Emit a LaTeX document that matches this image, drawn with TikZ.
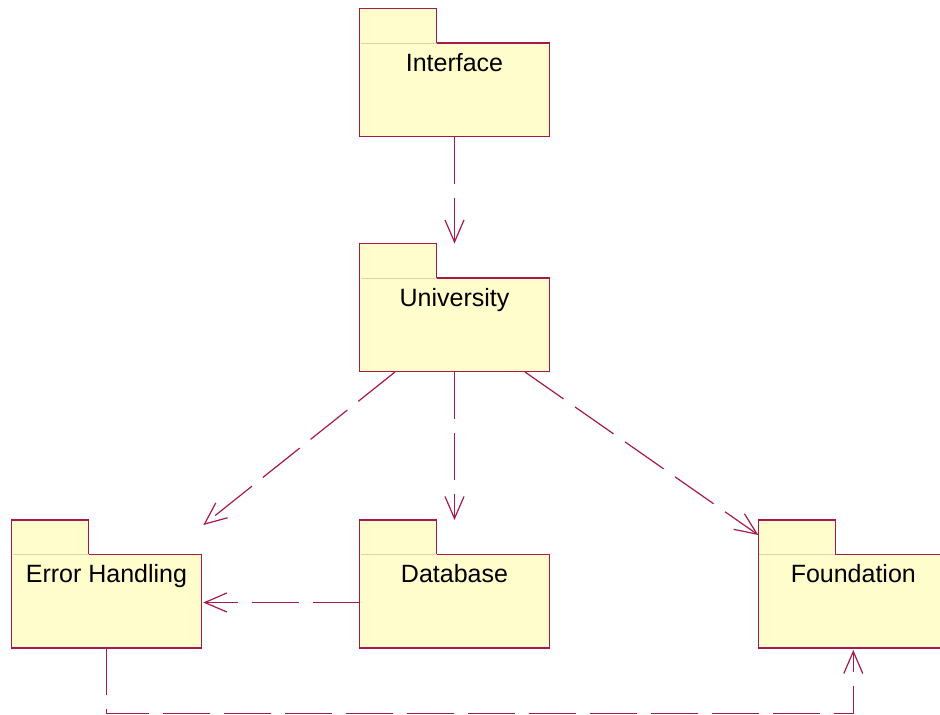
\documentclass[tikz,border=0pt]{standalone}
\usepackage{fontspec}
\setmainfont{Liberation Sans}
\usetikzlibrary{arrows.meta,calc}

\definecolor{roseline}{RGB}{165,25,75}
\definecolor{rosefill}{RGB}{255,253,204}
\definecolor{rosetab}{RGB}{226,208,170}

\tikzset{
  pkgframe/.style={minimum width=190pt, minimum height=128pt, inner sep=0pt, outer sep=0pt},
  pkgoutline/.style={draw=roseline, fill=rosefill, line width=1.3pt, line join=miter},
  pkgtabline/.style={draw=rosetab, line width=0.9pt},
  pkglabel/.style={font=\fontsize{25}{30}\selectfont, inner sep=0pt, anchor=base},
  dependency/.style={draw=roseline, line width=1.2pt, dash pattern=on 47pt off 14pt,
    -{Straight Barb[length=22pt, width=19pt, line width=1.2pt]}}
}

% UML package: #1 name, #2/#3 top-left corner, #4 caption
\newcommand\umlpackage[4]{%
  \node[pkgframe, anchor=north west] (#1) at (#2,#3) {};
  \draw[pkgoutline] (#1.north west) -- ++(77,0) -- ++(0,34.5)
    -| (#1.south east) -- (#1.south west) -- cycle;
  \draw[pkgtabline] ($(#1.north west)+(1,34.5)$) -- ++(76,0);
  \node[pkglabel] (#1-label) at ($(#1.north)+(0,62.5)$) {#4};
}

\begin{document}
\begin{tikzpicture}[x=1pt, y=-1pt]
  \fill[white] (0,0) rectangle (940,715);
  \useasboundingbox (0,0) rectangle (940,715);

  \umlpackage{iface}{359.5}{8.5}{Interface}
  \umlpackage{univ}{359.5}{243.5}{University}
  \umlpackage{err}{11.5}{520}{Error Handling}
  \umlpackage{db}{359.5}{520}{Database}
  \umlpackage{found}{758.3}{520}{Foundation}

  \draw[dependency] (iface.south) -- (univ.north);
  \draw[dependency] (univ.south) -- (db.north);
  \draw[dependency] ($(univ.south)+(-59.5,0.5)$) -- ($(err.north east)+(1.8,5)$);
  \draw[dependency] ($(univ.south)+(70.5,0.5)$) -- ($(found.north west)+(0,15)$);
  \draw[dependency] ($(db.west)+(0,18.5)$) -- ($(err.east)+(1.8,18.5)$);
  \coordinate (busleft) at ($(err.south)+(0,65.5)$);
  \draw[dependency] (err.south) -- (busleft) -| ($(found.south)+(0,2)$);
\end{tikzpicture}
\end{document}
